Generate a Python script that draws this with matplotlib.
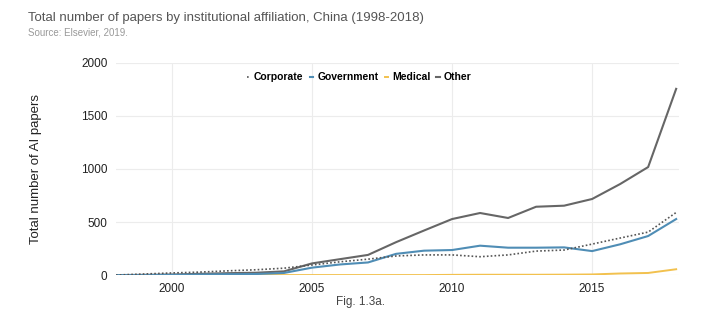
import numpy as np
import matplotlib
matplotlib.use("Agg")
import matplotlib.pyplot as plt

plt.rcParams['font.family'] = ['Liberation Sans', 'DejaVu Sans']

years = list(range(1998, 2019))
corporate = [0, 10, 20, 28, 40, 50, 65, 95, 125, 150, 180, 190, 190, 173, 190, 226, 236, 292, 349, 405, 590]
government = [0, 0, 2, 5, 8, 10, 20, 70, 100, 119, 200, 230, 236, 277, 258, 258, 261, 226, 290, 368, 528]
medical = [0, 0, 0, 0, 0, 0, 0, 0, 0, 0, 0, 0, 2, 3, 3, 3, 4, 6, 15, 20, 55]
other = [0, 2, 5, 12, 18, 22, 35, 110, 150, 190, 310, 420, 528, 585, 538, 644, 654, 717, 858, 1018, 1755]

fig = plt.figure(figsize=(7.2, 3.24), dpi=100)
ax = fig.add_axes([0.161, 0.151, 0.782, 0.655])

ax.plot(years, medical, color="#f2c14e", lw=1.4, label="Medical", zorder=3)
ax.plot(years, other, color="#666666", lw=1.5, label="Other", zorder=4)
ax.plot(years, government, color="#4f8db5", lw=1.5, label="Government", zorder=5)
ax.plot(years, corporate, color="#555555", lw=1.2, ls=(0, (1, 1.3)), label="Corporate", zorder=6)

ax.set_xlim(1998, 2018.1)
ax.set_ylim(0, 2000)
ax.set_xticks([2000, 2005, 2010, 2015])
ax.set_yticks([0, 500, 1000, 1500, 2000])
ax.grid(True, color="#ececec", lw=0.8)
ax.set_axisbelow(True)
for s in ax.spines.values():
    s.set_visible(False)
ax.tick_params(length=0, labelsize=8.5, colors="#222222", pad=6)
ax.set_ylabel("Total number of AI papers", fontsize=9.5, color="#222222", labelpad=28)

handles, labels = ax.get_legend_handles_labels()
order = [3, 2, 0, 1]
leg = ax.legend([handles[i] for i in order], [labels[i] for i in order],
                loc="upper center", bbox_to_anchor=(0.432, 1.0), ncol=4, frameon=False,
                handlelength=0.3, handletextpad=0.4, columnspacing=0.6,
                prop={"weight": "bold", "size": 7.5})

fig.text(0.039, 0.935, "Total number of papers by institutional affiliation, China (1998-2018)",
         fontsize=9.5, color="#555555")
fig.text(0.039, 0.89, "Source: Elsevier, 2019.", fontsize=7, color="#999999")
fig.text(0.5, 0.06, "Fig. 1.3a.", fontsize=8.5, color="#444444", ha="center")

fig.savefig("out.png", dpi=100)
